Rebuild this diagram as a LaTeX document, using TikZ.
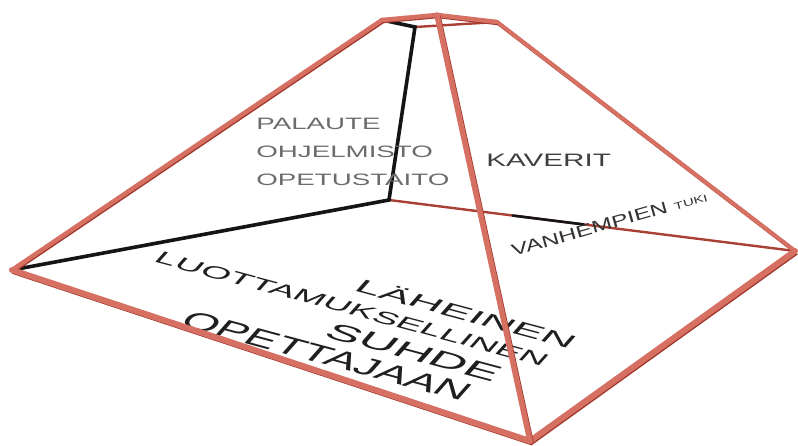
\documentclass[tikz,border=0pt]{standalone}
\usepackage{fontspec}
\setmainfont{Liberation Sans}
\usetikzlibrary{calc}
\definecolor{barlight}{RGB}{214,112,98}
\definecolor{bardark}{RGB}{160,56,44}
\definecolor{wallgray}{RGB}{108,108,108}
\tikzset{
    bar/.style={draw=barlight, line width=#1, line cap=round, line join=round,
        preaction={draw=bardark, line width=#1, transform canvas={shift={(1pt,-1pt)}}}},
    thinbar/.style={draw=bardark!85!barlight, line width=2.4pt, line cap=round},
    backline/.style={draw=black!92, line width=3.6pt, line cap=round},
    walltext/.style={text=wallgray, inner sep=0pt, anchor=west, xscale=1.68,
        font=\fontsize{16.5}{18}\selectfont},
    floortext/.style={text=black!88, inner sep=0pt, rotate=-15, xslant=0.5}
}
\newcommand{\floorfont}[1]{\fontsize{#1}{#1}\selectfont}
\begin{document}
\begin{tikzpicture}[x=1pt, y=-1pt]
            \useasboundingbox (0,0) rectangle (798,446);
            \fill[white] (0,0) rectangle (798,446);

            \coordinate (bL) at (12,270);
            \coordinate (bF) at (530,441);
            \coordinate (bR) at (795,251);
            \coordinate (bB) at (389,200);
            \coordinate (tL) at (382,20);
            \coordinate (tF) at (437,15);
            \coordinate (tR) at (497,22);
            \coordinate (tB) at (415,27);
            \coordinate (shadeA) at ($(bB)!0.305!(bR)$);
            \coordinate (shadeB) at ($(bB)!0.48!(bR)$);

            \draw[thinbar] (bB) -- (bR);
            \draw[thinbar] (tR) -- (tB);
            \draw[backline] (bL) -- (bB) -- (tB) -- (tL);
            \draw[backline, line width=2.6pt] (shadeA) -- (shadeB);

            \node[walltext] (palaute) at (256,124) {PALAUTE};
            \node[walltext] (ohjelmisto) at (256,152) {OHJELMISTO};
            \node[walltext] (opetustaito) at (256,180) {OPETUSTAITO};
            \node[walltext, text=black!75, xscale=0.98, font=\fontsize{18}{20}\selectfont] (kaverit) at (486,160) {KAVERIT};
            \node[text=black!80, inner sep=0pt, anchor=base west, rotate=16, xscale=1.5,
                font=\fontsize{16.5}{18}\selectfont] (tuki) at (513,257) {VANHEMPIEN {\fontsize{10}{12}\selectfont TUKI}};

            \node[floortext, xscale=2.3, font=\floorfont{19.5}] (laheinen) at (467,313) {LÄHEINEN};
            \node[floortext, xscale=2.05, font=\floorfont{18}] (luottamus) at (352,309) {LUOTTAMUKSELLINEN};
            \node[floortext, xscale=2.1, font=\floorfont{24}] (suhde) at (414,352) {SUHDE};
            \node[floortext, xscale=1.74, font=\floorfont{26}] (opettajaan) at (327,356) {OPETTAJAAN};

            \draw[bar=4pt] (bR) -- (tR);
            \draw[bar=4.5pt] (bL) -- (tL);
            \draw[bar=4.5pt] (tL) -- (tF) -- (tR);
            \draw[bar=6pt] (bL) -- (bF) -- (bR);
            \draw[bar=5.5pt] (bF) -- (tF);
\end{tikzpicture}
\end{document}
